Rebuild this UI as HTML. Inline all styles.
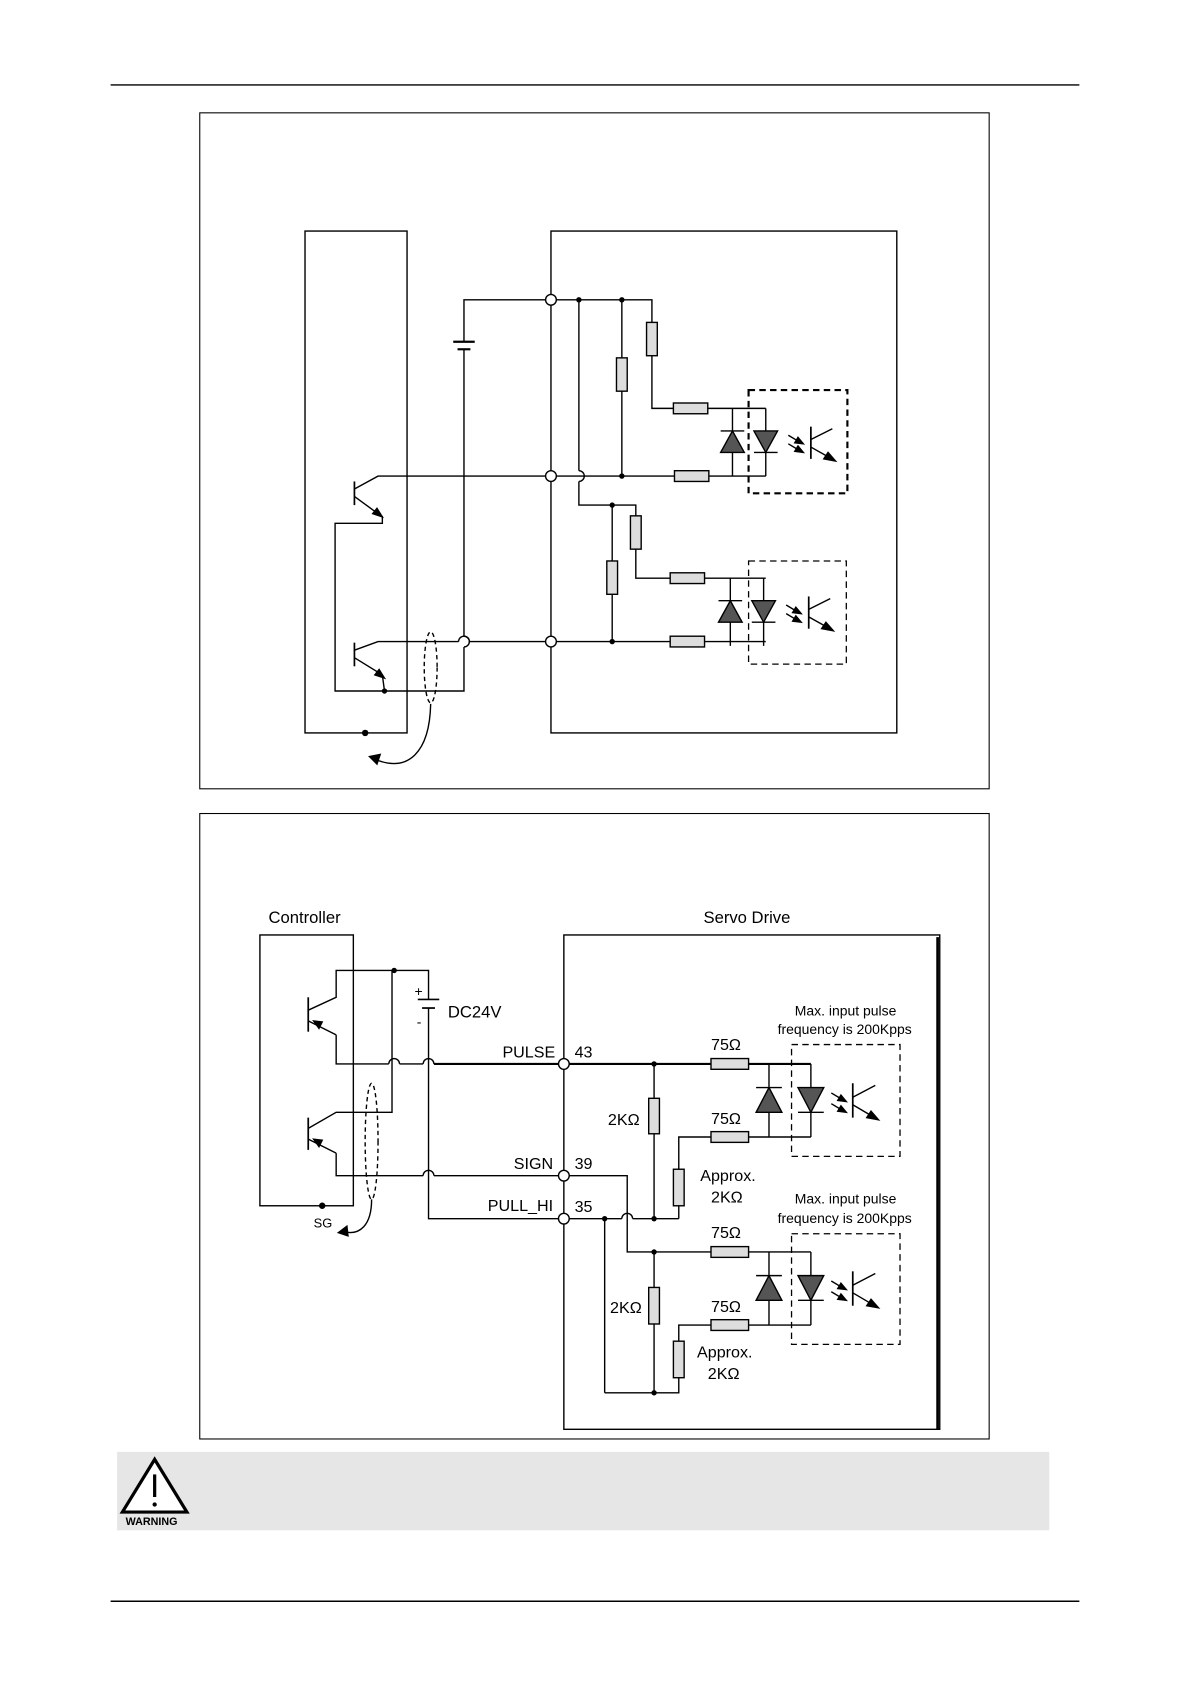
<!DOCTYPE html>
<html><head><meta charset="utf-8"><style>
html,body{margin:0;padding:0;background:#fff;}
svg{display:block;}
text{font-family:"Liberation Sans",Arial,sans-serif;fill:#000;}
</style></head><body>
<svg width="1190" height="1684" viewBox="0 0 1108 1567" preserveAspectRatio="none" xmlns="http://www.w3.org/2000/svg">
<g stroke="#000" fill="none" stroke-width="1.3">
<line x1="103" y1="79" x2="1005" y2="79"/>
<line x1="103" y1="1490" x2="1005" y2="1490"/>
<rect x="186" y="105" width="735" height="629" stroke-width="1"/>
<rect x="186" y="757" width="735" height="582" stroke-width="1"/>
</g>
<rect x="109" y="1351" width="868" height="73" fill="#e6e6e6"/>
<polygon points="144,1358 114,1407 174,1407" fill="#fff" stroke="#000" stroke-width="3"/>
<line x1="144" y1="1372" x2="144" y2="1393" stroke="#000" stroke-width="3"/>
<circle cx="144" cy="1400" r="2" fill="#000"/>
<text x="117" y="1419" font-size="10" font-weight="bold">WARNING</text>

<!-- DIAGRAM 1 -->
<g stroke="#000" fill="none" stroke-width="1.3">
<rect x="284" y="215" width="95" height="467"/>
<rect x="513" y="215" width="322" height="467"/>
<polyline points="432,318 432,279 607,279 607,300"/>
<line x1="422" y1="318" x2="442" y2="318" stroke-width="2"/>
<line x1="426" y1="325" x2="438" y2="325" stroke-width="2"/>
<polyline points="432,325 432,592"/>
<path d="M432,592 a5,5 0 0 1 0,10"/>
<polyline points="432,602 432,643 312,643 312,487 356,487 356,480"/>
<line x1="330" y1="448" x2="330" y2="470" stroke-width="1.6"/>
<polyline points="330,455 352,443 513,443"/>
<line x1="330" y1="462" x2="352" y2="478"/>
<polygon points="356,481 347,478 351,473" fill="#000"/>
<line x1="330" y1="598" x2="330" y2="620" stroke-width="1.6"/>
<polyline points="330,605 352,597 427,597"/>
<path d="M427,597 a5,5 0 0 1 10,0"/>
<line x1="437" y1="597" x2="513" y2="597"/>
<polyline points="330,612 356,628 358,643"/>
<polygon points="358,631 349,628 353,623" fill="#000"/>
<ellipse cx="401" cy="621" rx="6" ry="33" stroke-dasharray="4,3"/>
<path d="M401,655 C400,700 380,720 348,706"/>
<polygon points="344,704 354,702 351,711" fill="#000"/>
<polyline points="539,279 539,438"/>
<path d="M539,438 a5,5 0 0 1 0,10"/>
<polyline points="539,448 539,470 592,470 592,480"/>
<rect x="587" y="480" width="10" height="31" fill="#ddd"/>
<polyline points="592,511 592,538 624,538"/>
<rect x="624" y="533" width="32" height="10" fill="#ddd"/>
<line x1="656" y1="538" x2="713" y2="538"/>
<line x1="570" y1="470" x2="570" y2="522"/>
<rect x="565" y="522" width="10" height="31" fill="#ddd"/>
<line x1="570" y1="553" x2="570" y2="597"/>
<line x1="518" y1="597" x2="624" y2="597"/>
<rect x="624" y="592" width="32" height="10" fill="#ddd"/>
<line x1="656" y1="597" x2="713" y2="597"/>
<line x1="579" y1="279" x2="579" y2="333"/>
<rect x="574" y="333" width="10" height="31" fill="#ddd"/>
<line x1="579" y1="364" x2="579" y2="443"/>
<rect x="602" y="300" width="10" height="31" fill="#ddd"/>
<polyline points="607,331 607,380 627,380"/>
<rect x="627" y="375" width="32" height="10" fill="#ddd"/>
<line x1="659" y1="380" x2="713" y2="380"/>
<line x1="518" y1="443" x2="628" y2="443"/>
<rect x="628" y="438" width="32" height="10" fill="#ddd"/>
<line x1="660" y1="443" x2="713" y2="443"/>
</g>
<g fill="#fff" stroke="#000" stroke-width="1.3">
<circle cx="513" cy="279" r="5"/><circle cx="513" cy="443" r="5"/><circle cx="513" cy="597" r="5"/>
</g>
<g fill="#000">
<circle cx="539" cy="279" r="2.5"/><circle cx="579" cy="279" r="2.5"/><circle cx="579" cy="443" r="2.5"/>
<circle cx="570" cy="470" r="2.5"/><circle cx="570" cy="597" r="2.5"/><circle cx="358" cy="643" r="2.5"/><circle cx="340" cy="682" r="3"/>
</g>

<defs>
<g id="opto" stroke="#000" stroke-width="1.3">
<line x1="0" y1="0" x2="0" y2="63" fill="none"/>
<line x1="31" y1="0" x2="31" y2="63" fill="none"/>
<polygon points="-11,41 11,41 0,21" fill="#555"/>
<line x1="-11" y1="21" x2="11" y2="21"/>
<polygon points="20,21 42,21 31,41" fill="#555"/>
<line x1="20" y1="41" x2="42" y2="41"/>
<line x1="52" y1="25" x2="62" y2="31"/><polygon points="66,33 58,32 61,27" fill="#000"/>
<line x1="52" y1="33" x2="62" y2="39"/><polygon points="66,41 58,40 61,35" fill="#000"/>
<line x1="73" y1="17" x2="73" y2="47" stroke-width="1.6"/>
<line x1="73" y1="29" x2="93" y2="19" fill="none"/>
<line x1="73" y1="36" x2="89" y2="45" fill="none"/>
<polygon points="96,49 85,47 89,41" fill="#000"/>
</g>
</defs>
<use href="#opto" x="682" y="380"/>
<rect x="697" y="363" width="92" height="96" fill="none" stroke="#000" stroke-width="2" stroke-dasharray="6,4"/>
<use href="#opto" x="682" y="538" transform="translate(-2,0)"/>
<rect x="697" y="522" width="91" height="96" fill="none" stroke="#000" stroke-width="1.2" stroke-dasharray="6,4"/>

<!-- DIAGRAM 2 -->
<text x="250" y="859" font-size="15.5">Controller</text>
<text x="655" y="859" font-size="15.5">Servo Drive</text>
<g stroke="#000" fill="none" stroke-width="1.3">
<rect x="242" y="870" width="87" height="252"/>
<rect x="525" y="870" width="350" height="460"/>
<line x1="873" y1="872" x2="873" y2="1330" stroke-width="2.5"/>
<line x1="287" y1="928" x2="287" y2="960" stroke-width="1.6"/>
<polyline points="287,940 313,928 313,903 399,903 399,930"/>
<line x1="287" y1="950" x2="313" y2="963"/>
<polygon points="292,950 300,951 297,957" fill="#000"/>
<polyline points="313,963 313,990 362,990"/>
<path d="M362,990 a5,5 0 0 1 10,0"/>
<line x1="372" y1="990" x2="394" y2="990"/>
<path d="M394,990 a5,5 0 0 1 10,0"/>
<line x1="404" y1="990" x2="520" y2="990" stroke-width="2"/>
<line x1="287" y1="1040" x2="287" y2="1070" stroke-width="1.6"/>
<polyline points="287,1050 313,1035 365,1035 365,903"/>
<line x1="287" y1="1060" x2="313" y2="1073"/>
<polygon points="292,1060 300,1061 297,1067" fill="#000"/>
<polyline points="313,1073 313,1094 394,1094"/>
<path d="M394,1094 a5,5 0 0 1 10,0"/>
<line x1="404" y1="1094" x2="520" y2="1094"/>
<line x1="389" y1="930" x2="409" y2="930" stroke-width="1.6"/>
<line x1="393" y1="938" x2="405" y2="938" stroke-width="1.6"/>
<polyline points="399,938 399,1134 520,1134"/>
<ellipse cx="346" cy="1062" rx="6" ry="54" stroke-dasharray="4,3"/>
<path d="M346,1116 C346,1140 335,1150 320,1146"/>
<polygon points="315,1147 323,1141 324,1150" fill="#000"/>
<line x1="530" y1="990" x2="662" y2="990" stroke-width="2"/>
<rect x="662" y="985" width="35" height="10" fill="#ddd"/>
<line x1="697" y1="990" x2="755" y2="990" stroke-width="2"/>
<line x1="609" y1="990" x2="609" y2="1022"/>
<rect x="604" y="1022" width="10" height="33" fill="#ddd"/>
<line x1="609" y1="1055" x2="609" y2="1134"/>
<polyline points="632,1088 632,1058 662,1058"/>
<rect x="662" y="1053" width="35" height="10" fill="#ddd"/>
<line x1="697" y1="1058" x2="755" y2="1058"/>
<rect x="627" y="1088" width="10" height="34" fill="#ddd"/>
<line x1="632" y1="1122" x2="632" y2="1134"/>
<line x1="530" y1="1134" x2="579" y2="1134"/>
<path d="M579,1134 a5,5 0 0 1 10,0"/>
<line x1="589" y1="1134" x2="632" y2="1134"/>
<line x1="563" y1="1134" x2="563" y2="1296"/>
<polyline points="530,1094 584,1094 584,1165 755,1165" stroke-width="1.3"/>
<rect x="662" y="1160" width="35" height="10" fill="#ddd"/>
<line x1="609" y1="1165" x2="609" y2="1198"/>
<rect x="604" y="1198" width="10" height="34" fill="#ddd"/>
<line x1="609" y1="1232" x2="609" y2="1296"/>
<polyline points="563,1296 632,1296 632,1282"/>
<rect x="627" y="1248" width="10" height="34" fill="#ddd"/>
<polyline points="632,1248 632,1233 662,1233"/>
<rect x="662" y="1228" width="35" height="10" fill="#ddd"/>
<line x1="697" y1="1233" x2="755" y2="1233"/>
</g>
<g fill="#fff" stroke="#000" stroke-width="1.3">
<circle cx="525" cy="990" r="5"/><circle cx="525" cy="1094" r="5"/><circle cx="525" cy="1134" r="5"/>
</g>
<g fill="#000">
<circle cx="367" cy="903" r="2.5"/><circle cx="609" cy="990" r="2.5"/><circle cx="609" cy="1134" r="2.5"/>
<circle cx="563" cy="1134" r="2.5"/><circle cx="609" cy="1165" r="2.5"/><circle cx="609" cy="1296" r="2.5"/><circle cx="300" cy="1122" r="3"/>
</g>
<defs>
<g id="opto2" stroke="#000" stroke-width="1.3">
<line x1="0" y1="0" x2="0" y2="68"/>
<line x1="39" y1="0" x2="39" y2="68"/>
<polygon points="-12,45 12,45 0,22" fill="#555"/>
<line x1="-12" y1="22" x2="12" y2="22"/>
<polygon points="27,22 51,22 39,45" fill="#555"/>
<line x1="27" y1="45" x2="51" y2="45"/>
<line x1="58" y1="27" x2="68" y2="33"/><polygon points="72,35 64,34 67,29" fill="#000"/>
<line x1="58" y1="37" x2="68" y2="43"/><polygon points="72,45 64,44 67,39" fill="#000"/>
<line x1="78" y1="18" x2="78" y2="50" stroke-width="1.6"/>
<line x1="78" y1="31" x2="99" y2="20"/>
<line x1="78" y1="38" x2="95" y2="48"/>
<polygon points="102,52 91,50 95,44" fill="#000"/>
</g>
</defs>
<use href="#opto2" x="716" y="990"/>
<rect x="737" y="972" width="101" height="104" fill="none" stroke="#000" stroke-width="1.2" stroke-dasharray="6,4"/>
<use href="#opto2" x="716" y="1165"/>
<rect x="737" y="1148" width="101" height="103" fill="none" stroke="#000" stroke-width="1.2" stroke-dasharray="6,4"/>

<text x="386" y="927" font-size="13">+</text>
<text x="388" y="955" font-size="13">-</text>
<text x="417" y="947" font-size="15.5">DC24V</text>
<text x="517" y="984" font-size="15" text-anchor="end">PULSE</text>
<text x="535" y="984" font-size="15">43</text>
<text x="515" y="1088" font-size="15" text-anchor="end">SIGN</text>
<text x="535" y="1088" font-size="15">39</text>
<text x="515" y="1127" font-size="15" text-anchor="end">PULL_HI</text>
<text x="535" y="1128" font-size="15">35</text>
<text x="292" y="1142" font-size="12">SG</text>
<text x="662" y="977" font-size="15">75Ω</text>
<text x="662" y="1046" font-size="15">75Ω</text>
<text x="662" y="1152" font-size="15">75Ω</text>
<text x="662" y="1221" font-size="15">75Ω</text>
<text x="566" y="1047" font-size="15">2KΩ</text>
<text x="568" y="1222" font-size="15">2KΩ</text>
<text x="652" y="1099" font-size="15">Approx.</text>
<text x="662" y="1119" font-size="15">2KΩ</text>
<text x="649" y="1263" font-size="15">Approx.</text>
<text x="659" y="1283" font-size="15">2KΩ</text>
<text x="740" y="945" font-size="13">Max. input pulse</text>
<text x="724" y="962" font-size="13">frequency is 200Kpps</text>
<text x="740" y="1120" font-size="13">Max. input pulse</text>
<text x="724" y="1138" font-size="13">frequency is 200Kpps</text>
</svg>
</body></html>
